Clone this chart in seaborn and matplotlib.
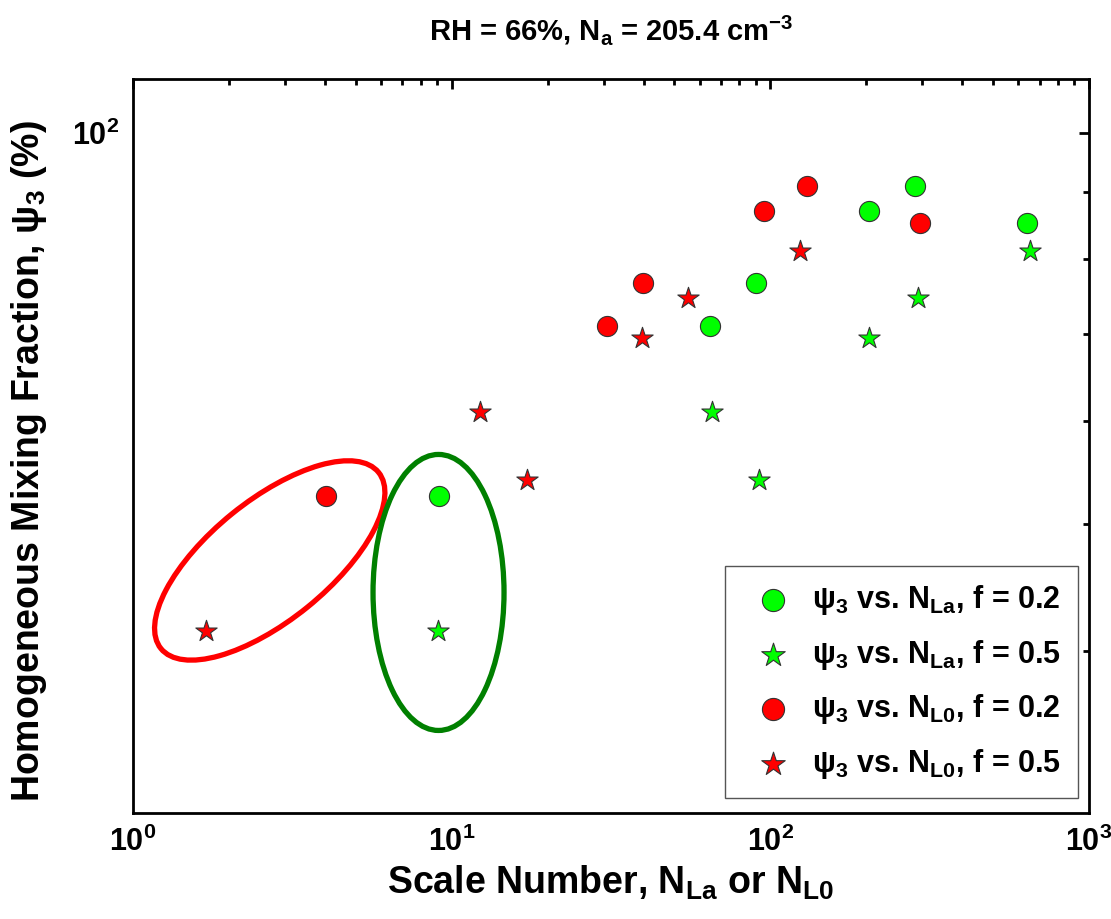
import numpy as np
import pandas as pd
import matplotlib
matplotlib.use("Agg")
import matplotlib.pyplot as plt
import matplotlib.transforms as mtransforms
from matplotlib.patches import Ellipse
import seaborn as sns

# values
psi_f02 = [52.6, 71.0, 76.6, 87.1, 91.1, 85.2]
psi_f05 = [41.4, 61.0, 54.1, 69.5, 74.6, 81.1]
nla_f02 = [9.13, 64.7, 90.2, 204.0, 284.0, 639.0]
nla_f05 = [9.06, 65.6, 92.1, 204.0, 291.0, 653.0]
nl0_f02 = [4.03, 30.7, 39.8, 95.5, 130.0, 295.0]
nl0_f05 = [1.69, 12.3, 17.2, 39.6, 55.2, 124.0]

labels = [r"$\psi_3$ vs. N$_{La}$, f = 0.2",
          r"$\psi_3$ vs. N$_{La}$, f = 0.5",
          r"$\psi_3$ vs. N$_{L0}$, f = 0.2",
          r"$\psi_3$ vs. N$_{L0}$, f = 0.5"]

sns.set_style("white")
plt.rcParams["font.family"] = ["Liberation Sans", "DejaVu Sans"]
plt.rcParams["font.weight"] = "bold"
plt.rcParams["mathtext.fontset"] = "custom"
plt.rcParams["mathtext.rm"] = "Liberation Sans:bold"
plt.rcParams["mathtext.it"] = "Liberation Sans:bold"
plt.rcParams["mathtext.bf"] = "Liberation Sans:bold"
plt.rcParams["mathtext.default"] = "rm"
for key in ["text.color", "axes.labelcolor", "xtick.color", "ytick.color"]:
    plt.rcParams[key] = "black"

df = pd.DataFrame({
    "x": nla_f02 + nla_f05 + nl0_f02 + nl0_f05,
    "y": psi_f02 + psi_f05 + psi_f02 + psi_f05,
    "series": [labels[0]] * 6 + [labels[1]] * 6 + [labels[2]] * 6 + [labels[3]] * 6,
})

fig = plt.figure(figsize=(11.11, 9.19), dpi=100)
ax = fig.add_axes([0.1197, 0.1153, 0.8605, 0.7987])

styles = {
    labels[0]: ("o", "#00ff00", 210),
    labels[1]: ("*", "#00ff00", 260),
    labels[2]: ("o", "#ff0000", 210),
    labels[3]: ("*", "#ff0000", 260),
}
for lab in labels:
    m, c, s = styles[lab]
    sub = df[df["series"] == lab]
    sns.scatterplot(data=sub, x="x", y="y", marker=m, color=c, s=s,
                    edgecolor="#333333", linewidth=0.8, label=lab, ax=ax, zorder=3)

ax.set_xscale("log")
ax.set_yscale("log")
ax.set_xlim(1, 1000)
ax.set_ylim(30, 110)

ax.set_yticks([100])
ax.set_yticklabels([r"10$^2$"])
ax.set_yticks([40, 50, 60, 70, 80, 90], minor=True)
ax.yaxis.set_minor_formatter(matplotlib.ticker.NullFormatter())
ax.set_xticks([1, 10, 100, 1000])
ax.set_xticklabels([r"10$^0$", r"10$^1$", r"10$^2$", r"10$^3$"])

ax.tick_params(which="both", direction="in", top=True, right=True, width=2,
               labelsize=22, pad=10)
ax.tick_params(which="major", length=7)
ax.tick_params(which="minor", length=4.5)
for sp in ax.spines.values():
    sp.set_linewidth(2)
    sp.set_color("black")

ax.set_xlabel(r"Scale Number, N$_{La}$ or N$_{L0}$", fontsize=27, fontweight="bold", labelpad=4)
ax.set_ylabel(r"Homogeneous Mixing Fraction, $\psi_3$ (%)", fontsize=27, fontweight="bold")
ax.yaxis.set_label_coords(-0.088, 0.48)
ax.set_title(r"RH = 66%, N$_a$ = 205.4 cm$^{-3}$", fontsize=21, fontweight="bold", pad=28)

leg = ax.legend(loc="lower right", bbox_to_anchor=(1 - 11 / 956, 15 / 734),
                borderaxespad=0, fontsize=22, frameon=True, fancybox=False,
                framealpha=1, edgecolor="#555555", borderpad=0.55,
                labelspacing=0.68, handletextpad=0.3, markerscale=1.1)
leg.get_frame().set_linewidth(1)


def ring(xs, ys, w, h, angle, color, dx=0.0, dy=0.0):
    cx = np.exp(np.mean(np.log(xs)))
    cy = np.exp(np.mean(np.log(ys)))
    tr = fig.dpi_scale_trans + mtransforms.ScaledTranslation(cx, cy, ax.transData)
    ax.add_patch(Ellipse((dx, dy), w, h, angle=angle, transform=tr, fill=False,
                         edgecolor=color, linewidth=3.8, zorder=2))


ring([nl0_f02[0], nl0_f05[0]], [psi_f02[0], psi_f05[0]], 2.80, 1.20, 39, "#ff0000", 0.04, 0.03)
ring([nla_f02[0], nla_f05[0]], [psi_f02[0], psi_f05[0]], 1.31, 2.76, 0, "#008000", 0.0, -0.29)

fig.savefig("out.png", dpi=100)
